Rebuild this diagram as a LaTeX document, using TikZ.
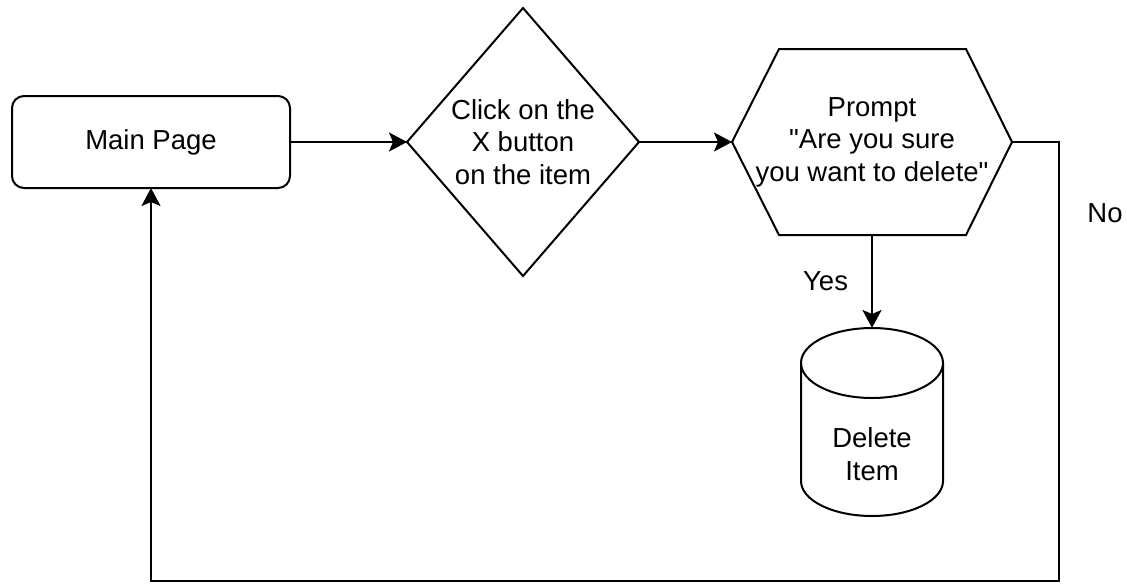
\documentclass[tikz,border=0pt]{standalone}
\usepackage{fontspec}
\newfontfamily\diagramfont{Liberation Sans}
\usetikzlibrary{shapes.geometric,arrows.meta}
\begin{document}
\begin{tikzpicture}[x=1pt,y=-1pt,
  every node/.style={font=\diagramfont\fontsize{27.5}{32.5}\selectfont, text=black, inner sep=0pt, outer sep=0pt},
  outline/.style={line width=2pt, draw=black},
  arr/.style={draw=black, line width=2pt, -{Stealth[length=18pt,width=19pt,inset=4pt]}},
]
\useasboundingbox (0,0) rectangle (1127,584);

% process box
\node[outline, rounded corners=12pt, minimum width=278pt, minimum height=92pt] (main) at (151,142) {Main Page};

% decision
\node[outline, diamond, aspect=0.866, minimum width=232pt, minimum height=268pt, align=center] (click) at (523,142) {Click on the\\X button\\ on the item};

% prompt (hexagon drawn around the node frame)
\node[minimum width=280pt, minimum height=186pt, align=center] (prompt) at (872,142)
  {Prompt\\"Are you sure\\you want to delete"};
\draw[outline, line join=miter] (prompt.west) -- ([xshift=47pt]prompt.north west) -- ([xshift=-46pt]prompt.north east)
  -- (prompt.east) -- ([xshift=-46pt]prompt.south east) -- ([xshift=47pt]prompt.south west) -- cycle;

% storage cylinder
\node[minimum width=142pt, minimum height=188pt] (del) at (872,422) {};
\draw[outline] ([yshift=-35pt]del.north) ellipse [x radius=71pt, y radius=35pt];
\draw[outline] ([yshift=-35pt]del.north west) -- ([yshift=35pt]del.south west)
  arc[start angle=180, end angle=360, x radius=71pt, y radius=35pt] -- ([yshift=-35pt]del.north east);
\node[align=center] (deltext) at ([yshift=-32pt]del.center) {Delete\\Item};

% connectors
\draw[arr] (main.east) -- (click.west);
\draw[arr] (click.east) -- (prompt.west);
\draw[arr] (prompt.south) -- (del.north) node[pos=0.5, left=24pt] (yes) {Yes};
\coordinate (corner) at (1059,581);
\draw[arr, line join=miter] (prompt.east) -| (corner) -| (main.south);
\node (no) at (1105,213) {No};
\end{tikzpicture}
\end{document}
